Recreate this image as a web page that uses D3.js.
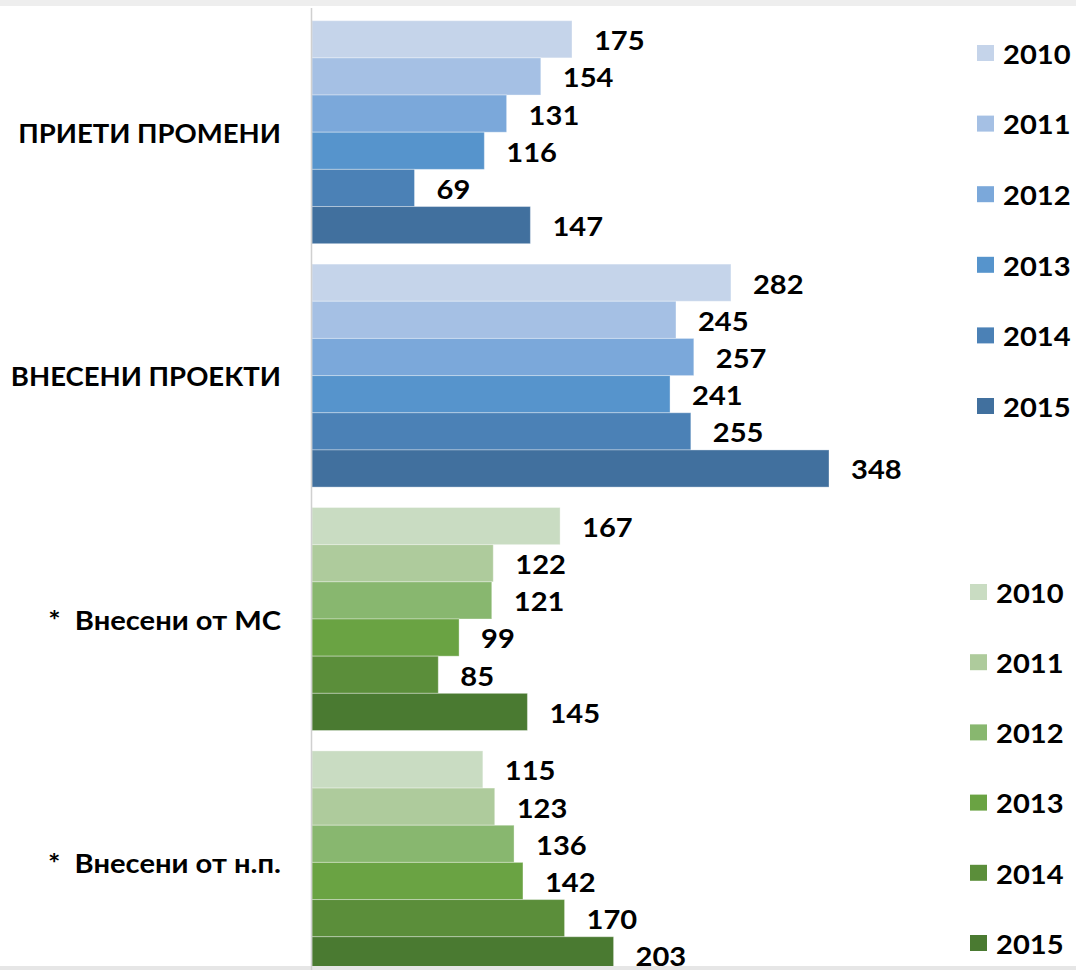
<!DOCTYPE html>
<html><head><meta charset="utf-8">
<script src="https://cdn.jsdelivr.net/npm/d3@7"></script>
<style>body{margin:0;background:#fff}svg{display:block}text{font-family:Lato,'Open Sans',sans-serif;font-weight:700;fill:#000}</style>
</head><body><svg id="c" width="1076" height="970"></svg>
<script>
const categories = ["ПРИЕТИ ПРОМЕНИ", "ВНЕСЕНИ ПРОЕКТИ", "*  Внесени от МС", "*  Внесени от н.п."];
const years = ["2010", "2011", "2012", "2013", "2014", "2015"];
const valuesPrieti = [175, 154, 131, 116, 69, 147];
const valuesProekti = [282, 245, 257, 241, 255, 348];
const valuesMS = [167, 122, 121, 99, 85, 145];
const valuesNP = [115, 123, 136, 142, 170, 203];
const blueColors = ["#c5d4ea", "#a5c0e4", "#7ba8da", "#5694cc", "#4b81b6", "#41709e"];
const greenColors = ["#c9dcc2", "#aecb9c", "#88b76f", "#6aa343", "#5b8e3a", "#4a7a31"];

const series = [valuesPrieti, valuesProekti, valuesMS, valuesNP];
const palettes = [blueColors, blueColors, greenColors, greenColors];

const svg = d3.select("#c");
svg.append("rect").attr("x",0).attr("y",0).attr("width",1076).attr("height",6).attr("fill","#eeeeee");

const x0 = 312;
const x = d3.scaleLinear().domain([0, 348]).range([x0, x0 + 517]);
const bandStep = 243.4, bandH = 223, plotTop = 20.7;
const y = d3.scaleBand().domain(categories)
  .range([plotTop, plotTop + 3 * bandStep + bandH]).paddingInner((bandStep - bandH) / bandStep).paddingOuter(0);
const yInner = d3.scaleBand().domain(years).range([0, y.bandwidth()]);

function sx(sel, k) {
  sel.each(function () {
    const t = d3.select(this);
    const xx = +t.attr("x"), yy = +t.attr("y");
    const kk = typeof k === "function" ? k(t.text()) : k;
    t.attr("x", 0).attr("y", 0).attr("transform", `translate(${xx},${yy}) scale(${kk},1)`);
  });
}

categories.forEach((cat, ci) => {
  const g = svg.append("g").attr("transform", `translate(0,${y(cat)})`);
  g.selectAll("rect").data(series[ci]).join("rect")
    .attr("x", x(0))
    .attr("y", (d, i) => yInner(years[i]))
    .attr("width", d => x(d) - x(0))
    .attr("height", yInner.bandwidth())
    .attr("fill", (d, i) => palettes[ci][i])
    .attr("stroke", "rgba(255,255,255,0.35)").attr("stroke-width", 1);
  g.selectAll("text.v").data(series[ci]).join("text").attr("class","v")
    .attr("x", d => x(d) + 22)
    .attr("y", (d, i) => yInner(years[i]) + yInner.bandwidth() / 2 + 1)
    .attr("dominant-baseline", "central")
    .attr("font-size", 26)
    .text(d => d)
    .call(sx, 1.12);
  svg.append("text")
    .attr("x", 281).attr("y", y(cat) + y.bandwidth() / 2)
    .attr("text-anchor", "end").attr("dominant-baseline", "central")
    .attr("font-size", 27.5)
    .style("white-space","pre")
    .text(cat)
    .call(sx, s => s === s.toUpperCase() ? 1.0 : 1.06);
});

svg.append("rect").attr("x",0).attr("y",966).attr("width",1076).attr("height",4).attr("fill","#e6e6e6");

// axis line
svg.append("line").attr("x1", 311.5).attr("x2", 311.5).attr("y1", 8).attr("y2", 970)
  .attr("stroke", "#d0d0d0").attr("stroke-width", 1.5);

// legends
const legY1 = d3.scalePoint().domain(years).range([53, 406]);
const legY2 = d3.scalePoint().domain(years).range([592, 943]);
function legend(xSq, scale, colors) {
  const lg = svg.append("g");
  years.forEach((yr, i) => {
    lg.append("rect").attr("x", xSq).attr("y", scale(yr) - 8).attr("width", 17).attr("height", 16).attr("fill", colors[i]);
    lg.append("text").attr("x", xSq + 26).attr("y", scale(yr) + 1).attr("dominant-baseline", "central")
      .attr("font-size", 26).text(yr).call(sx, 1.12);
  });
}
legend(977, legY1, blueColors);
legend(970, legY2, greenColors);
</script></body></html>
